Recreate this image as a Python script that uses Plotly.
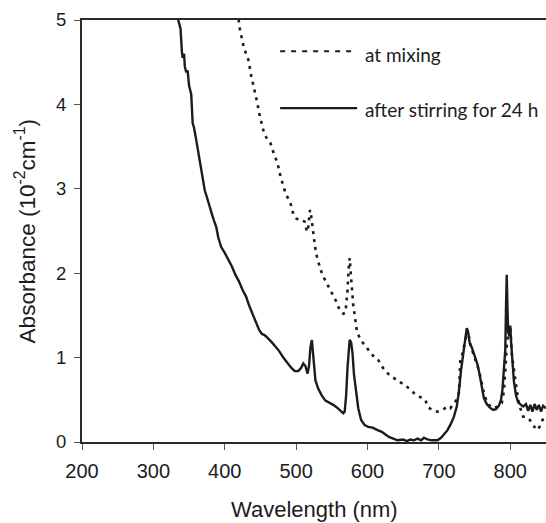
import plotly.graph_objects as go

# after stirring for 24 h (solid)
wl_stirred = [330, 335, 338, 340, 341, 343, 344, 346, 348, 350, 353, 355, 357, 360, 363, 365, 367, 370,
              372, 375, 378, 382, 385, 388, 391, 395, 400, 405, 410, 415, 420, 425, 430, 434, 440, 445,
              448, 452, 455, 458, 462, 466, 470, 476, 482, 488, 493, 498, 503, 507, 510, 513, 516, 518,
              520, 522, 523, 525, 527, 531, 536, 541, 546, 552, 557, 562, 566, 568, 570, 572, 574, 575,
              577, 579, 581, 584, 587, 591, 596, 601, 607, 614, 620, 625, 630, 636, 642, 650, 655, 660,
              665, 670, 675, 679, 684, 690, 698, 703, 708, 712, 717, 721, 725, 728, 731, 734, 737, 739,
              741, 743, 746, 750, 754, 757, 760, 763, 767, 771, 776, 780, 784, 787, 789, 791, 793, 794,
              795, 796, 797, 799, 800, 801, 803, 805, 808, 811, 815, 818, 822, 825, 828, 831, 834, 837,
              840, 843, 846, 850]
abs_stirred = [5.15, 4.98, 4.90, 4.62, 4.55, 4.60, 4.45, 4.38, 4.40, 4.22, 4.12, 3.78, 3.72, 3.58, 3.42,
               3.35, 3.22, 3.05, 2.98, 2.90, 2.80, 2.70, 2.62, 2.55, 2.42, 2.31, 2.24, 2.16, 2.08, 1.98,
               1.90, 1.80, 1.72, 1.62, 1.50, 1.40, 1.33, 1.28, 1.27, 1.25, 1.22, 1.18, 1.14, 1.08, 1.00,
               0.93, 0.88, 0.84, 0.84, 0.88, 0.93, 0.90, 0.81, 0.90, 1.12, 1.21, 1.10, 0.85, 0.73, 0.63,
               0.55, 0.49, 0.47, 0.44, 0.41, 0.37, 0.34, 0.36, 0.55, 0.89, 1.15, 1.21, 1.18, 1.05, 0.80,
               0.58, 0.40, 0.26, 0.20, 0.18, 0.17, 0.14, 0.12, 0.09, 0.06, 0.04, 0.02, 0.03, 0.01, 0.03,
               0.02, 0.04, 0.02, 0.05, 0.03, 0.02, 0.02, 0.05, 0.10, 0.14, 0.22, 0.30, 0.42, 0.60, 0.85,
               1.05, 1.22, 1.35, 1.30, 1.18, 1.12, 1.02, 0.92, 0.80, 0.64, 0.52, 0.45, 0.41, 0.38, 0.39,
               0.43, 0.50, 0.62, 0.85, 1.10, 1.60, 1.98, 1.60, 1.30, 1.25, 1.38, 1.20, 0.95, 0.72, 0.55,
               0.47, 0.44, 0.42, 0.45, 0.37, 0.44, 0.36, 0.45, 0.38, 0.44, 0.36, 0.43, 0.40]

# at mixing (dotted)
wl_mixing = [418, 421, 424, 427, 431, 434, 436, 438.5, 441, 443, 446, 448, 452, 455, 460, 464, 467, 470,
             474, 478, 482, 485, 489, 492, 496, 500, 504, 508, 512, 515, 517, 519.5, 521, 522, 524,
             526.5, 529, 533.5, 538, 545, 552, 556.5, 561, 566, 569, 572, 573.5, 575, 576.5, 578, 580,
             582, 585, 587, 591, 596, 600, 605, 610, 615, 620, 624, 630, 638, 645, 652, 658, 665, 672,
             677, 681, 684, 690, 698, 705, 712, 716, 721, 725, 728, 730, 733, 735, 738, 740, 742, 744,
             748, 752, 756, 760, 763, 767, 772, 777, 782, 788, 791, 793, 795, 797.5, 800, 802, 804,
             806.5, 809, 811, 814, 818, 822, 827.5, 832, 837, 841, 845, 850]
abs_mixing = [5.10, 4.90, 4.78, 4.66, 4.58, 4.50, 4.38, 4.29, 4.20, 4.13, 4.00, 3.90, 3.77, 3.66, 3.58,
              3.54, 3.46, 3.40, 3.30, 3.15, 3.05, 2.95, 2.88, 2.83, 2.70, 2.65, 2.63, 2.63, 2.61, 2.49,
              2.55, 2.75, 2.68, 2.61, 2.43, 2.31, 2.20, 2.06, 1.96, 1.84, 1.72, 1.66, 1.56, 1.52, 1.53,
              1.80, 2.05, 2.18, 2.00, 1.80, 1.62, 1.50, 1.32, 1.27, 1.20, 1.15, 1.10, 1.05, 1.00, 0.97,
              0.90, 0.85, 0.80, 0.75, 0.71, 0.68, 0.63, 0.58, 0.54, 0.52, 0.50, 0.42, 0.38, 0.36, 0.38,
              0.42, 0.40, 0.46, 0.50, 0.58, 0.97, 1.05, 1.13, 1.28, 1.33, 1.25, 1.15, 1.05, 0.95, 0.85,
              0.70, 0.58, 0.48, 0.42, 0.40, 0.42, 0.46, 0.60, 0.85, 1.13, 1.33, 1.37, 1.05, 0.90, 0.77,
              0.62, 0.50, 0.40, 0.30, 0.30, 0.26, 0.20, 0.14, 0.18, 0.26, 0.30]

x_ticks = [200, 300, 400, 500, 600, 700, 800]
y_ticks = [0, 1, 2, 3, 4, 5]
legend_labels = ["at mixing", "after stirring for 24 h"]

INK = "#1c1c1c"
AXIS_FONT = "Liberation Sans, Arial, sans-serif"

fig = go.Figure()
fig.add_trace(go.Scatter(x=wl_mixing, y=abs_mixing, mode="lines",
                         line=dict(color=INK, width=2.6, dash="3px,5px"), showlegend=False))
fig.add_trace(go.Scatter(x=wl_stirred, y=abs_stirred, mode="lines",
                         line=dict(color=INK, width=2.4), showlegend=False))

fig.update_layout(
    width=546, height=523,
    margin=dict(l=81.5, r=0, t=20, b=81),
    paper_bgcolor="white", plot_bgcolor="white",
    showlegend=False,
    xaxis=dict(range=[200, 850], tickvals=x_ticks, ticks="outside", ticklen=6, tickwidth=1,
               tickcolor="#555555", showline=True, linecolor="#2a2a2a", linewidth=2, mirror=True,
               showgrid=False, zeroline=False, ticklabelstandoff=4,
               tickfont=dict(family=AXIS_FONT, size=20, color=INK)),
    yaxis=dict(range=[0, 5], tickvals=y_ticks, ticks="outside", ticklen=6, tickwidth=1,
               tickcolor="#555555", showline=True, linecolor="#2a2a2a", linewidth=2,
               showgrid=False, zeroline=False, ticklabelstandoff=4,
               tickfont=dict(family=AXIS_FONT, size=18.5, color=INK)),
)

# legend (custom)
fig.add_shape(type="line", xref="paper", yref="paper", x0=0.427, x1=0.585, y0=0.926, y1=0.926,
              line=dict(color=INK, width=2, dash="5px,6px"))
fig.add_shape(type="line", xref="paper", yref="paper", x0=0.427, x1=0.593, y0=0.791, y1=0.791,
              line=dict(color=INK, width=2.2))
for lab, yy in zip(legend_labels, [0.919, 0.789]):
    fig.add_annotation(text=lab, xref="paper", yref="paper", x=0.605, y=yy, xanchor="left",
                       yanchor="middle", showarrow=False,
                       font=dict(family="Lato, sans-serif", size=19, color=INK))

fig.add_annotation(text="Wavelength (nm)", xref="paper", yref="paper", x=0.5, y=-0.159,
                   xanchor="center", yanchor="middle", showarrow=False,
                   font=dict(family=AXIS_FONT, size=22, color=INK))
fig.add_annotation(text="Absorbance (10<sup>-2</sup>cm<sup>-1</sup>)", xref="paper", yref="paper",
                   x=-0.122, y=0.50, xanchor="center", yanchor="middle", textangle=-90,
                   showarrow=False, font=dict(family=AXIS_FONT, size=22.5, color=INK))

fig.write_html("out.html", config={"displayModeBar": False},
               post_script="document.body.style.margin='0';")
